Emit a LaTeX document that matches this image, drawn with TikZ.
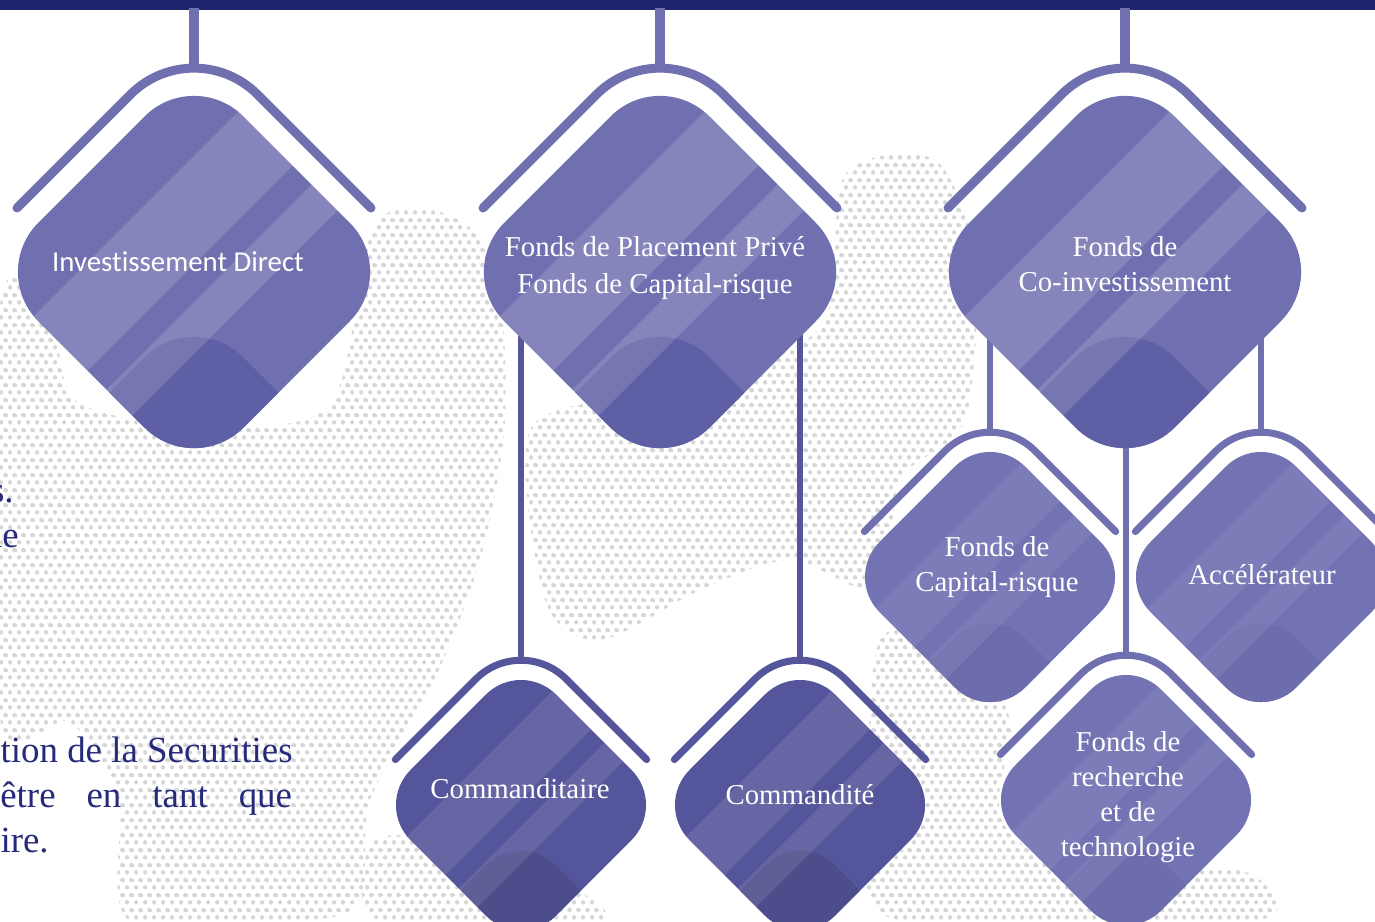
\documentclass[tikz,border=0pt]{standalone}
\usepackage{fontspec}
\setmainfont{Liberation Serif}
\newfontfamily\calib[Ligatures=NoCommon]{Carlito}
\usetikzlibrary{patterns.meta}
\definecolor{navybar}{HTML}{1F246F}
\definecolor{textnavy}{HTML}{262A7A}
\definecolor{dotc}{HTML}{D6D6D6}
\definecolor{baseA}{HTML}{7070B0}
\definecolor{domeA}{HTML}{5F5FA6}
\definecolor{baseB}{HTML}{55559B}
\definecolor{domeB}{HTML}{4D4D8C}
\definecolor{baseC}{HTML}{7373B3}
\definecolor{domeC}{HTML}{6D6DAD}
\tikzdeclarepattern{
  name=halftone,
  type=colored,
  bounding box={(0pt,0pt) and (5.2pt,8.4pt)},
  tile size={(5.2pt,8.4pt)},
  code={
    \fill[dotc] (1.3pt,2.1pt) circle (1.3pt);
    \fill[dotc] (3.9pt,6.3pt) circle (1.3pt);
  }
}
% #1 cx, #2 cy, #3 scale, #4 base, #5 dome, #6 band opacity
\newcommand{\gemshape}[6]{%
  \pgfmathsetlengthmacro\gemrc{39.7pt*#3}%
  \begin{scope}[shift={(#1,#2)},scale=#3]
    \begin{scope}
      \clip[rounded corners=\gemrc] (-102.5,-102.5) -- (0,-205) -- (205,0) -- (0,205) -- (-205,0) -- cycle;
      \fill[#4] (-260,-260) rectangle (260,260);
      \fill[#5, rounded corners=\gemrc] (-102.5,138.5) -- (0,36) -- (205,241) -- (0,446) -- (-205,241) -- cycle;
      \fill[white, opacity=#6] (184,-300) -- (-416,300) -- (-308,300) -- (292,-300) -- cycle;
      \fill[white, opacity=#6] (330,-300) -- (-270,300) -- (-218,300) -- (382,-300) -- cycle;
    \end{scope}
  \end{scope}}
% #1 cx, #2 cy, #3 scale, #4 colour, #5 line width
\newcommand{\roofline}[5]{%
  \pgfmathsetlengthmacro\roofrc{51pt*#3}%
  \begin{scope}[shift={(#1,#2)},scale=#3]
    \draw[#4, line width=#5, line cap=round, rounded corners=\roofrc] (-177,-64) -- (0,-241) -- (177,-64);
  \end{scope}}
\begin{document}
\begin{tikzpicture}[x=0.02cm,y=-0.02cm,
  stemA/.style={draw=baseA, line width=5.4pt},
  stemB/.style={draw=baseB, line width=3.7pt},
  stemC/.style={draw=baseA, line width=3.5pt},
  gemtext/.style={text=white, align=center, inner sep=0pt, font=\fontsize{16.4}{19.8}\selectfont},
  sidetext/.style={text=textnavy, inner sep=0pt, font=\fontsize{21}{25}\selectfont}]
\useasboundingbox (0,0) rectangle (1375,921);
\fill[white] (0,0) rectangle (1375,921);
% halftone background
\fill[pattern=halftone] plot[smooth cycle] coordinates {(0,305) (50,298) (75,400) (200,425) (330,405) (372,228) (440,212) (495,262) (505,420) (480,560) (430,690) (370,800) (360,900) (300,921) (130,921) (118,800) (70,722) (0,718)};
\fill[pattern=halftone] plot[smooth cycle] coordinates {(530,430) (640,395) (740,370) (825,320) (845,175) (935,160) (975,260) (965,420) (900,480) (880,590) (790,560) (700,590) (600,640) (545,600)};
\fill[pattern=halftone] plot[smooth cycle] coordinates {(880,640) (960,645) (1010,720) (1000,810) (1060,865) (1240,870) (1255,921) (900,921) (870,820)};
\fill[pattern=halftone] plot[smooth cycle] coordinates {(375,840) (470,845) (560,880) (600,921) (380,921)};
% top bar
\fill[navybar] (0,0) rectangle (1375,10);
% coordinates of connector ends
\coordinate (bar1) at (194,8);
\coordinate (bar2) at (660,8);
\coordinate (bar3) at (1125,8);
\coordinate (apex1) at (194,68);
\coordinate (apex2) at (660,68);
\coordinate (apex3) at (1125,68);
\coordinate (p2l) at (521,300);
\coordinate (p2r) at (800,300);
\coordinate (p3l) at (990,300);
\coordinate (p3r) at (1261,300);
\coordinate (p3m) at (1126,400);
\coordinate (apex4) at (521,660);
\coordinate (apex5) at (800,660);
\coordinate (apex6) at (990,432);
\coordinate (apex7) at (1261,432);
\coordinate (apex8) at (1126,655);
% stems
\draw[stemA] (bar1) -- (apex1);
\draw[stemA] (bar2) -- (apex2);
\draw[stemA] (bar3) -- (apex3);
\draw[stemB] (p2l) -- (apex4);
\draw[stemB] (p2r) -- (apex5);
\draw[stemC] (p3l) -- (apex6);
\draw[stemC] (p3r) -- (apex7);
\draw[stemC] (p3m) -- (apex8);
% roofs
\roofline{194}{272}{1}{baseA}{5.1pt}
\roofline{660}{272}{1}{baseA}{5.1pt}
\roofline{1125}{272}{1}{baseA}{5.1pt}
\roofline{521}{805}{0.71}{baseB}{4pt}
\roofline{800}{805}{0.71}{baseB}{4pt}
\roofline{990}{577}{0.71}{baseA}{4pt}
\roofline{1261}{577}{0.71}{baseA}{4pt}
\roofline{1126}{800}{0.71}{baseA}{4pt}
% diamonds
\gemshape{194}{272}{1}{baseA}{domeA}{0.15}
\gemshape{660}{272}{1}{baseA}{domeA}{0.15}
\gemshape{1125}{272}{1}{baseA}{domeA}{0.15}
\gemshape{521}{805}{0.71}{baseB}{domeB}{0.1}
\gemshape{800}{805}{0.71}{baseB}{domeB}{0.1}
\gemshape{990}{577}{0.71}{baseC}{domeC}{0.07}
\gemshape{1261}{577}{0.71}{baseC}{domeC}{0.07}
\gemshape{1126}{800}{0.71}{baseC}{domeC}{0.07}
% labels
\node[gemtext, font=\calib\fontsize{16.4}{19.8}\selectfont] (t1) at (178,262) {Investissement Direct};
\node[gemtext, font=\fontsize{16.4}{21.5}\selectfont] (t2) at (655,268) {Fonds de Placement Privé\\Fonds de Capital-risque};
\node[gemtext] (t3) at (1125,264) {Fonds de\\Co-investissement};
\node[gemtext] (t4) at (520,789) {Commanditaire};
\node[gemtext] (t5) at (800,795) {Commandité};
\node[gemtext] (t6) at (997,567) {Fonds de\\Capital-risque};
\node[gemtext] (t7) at (1262,575) {Accélérateur};
\node[gemtext] (t8) at (1128,797) {Fonds de\\recherche\\et de\\technologie};
% side text fragments
\node[sidetext, anchor=base east] (s1) at (14,502) {s.};
\node[sidetext, anchor=base east] (s2) at (19,547) {ne};
\node[sidetext, anchor=base east] (s3) at (293,762) {tion de la Securities};
\node[sidetext, anchor=base west] (s4) at (0,807) {\hbox to 166pt{être\hfill en\hfill tant\hfill que}};
\node[sidetext, anchor=base east] (s5) at (49,852) {ire.};
\end{tikzpicture}
\end{document}
